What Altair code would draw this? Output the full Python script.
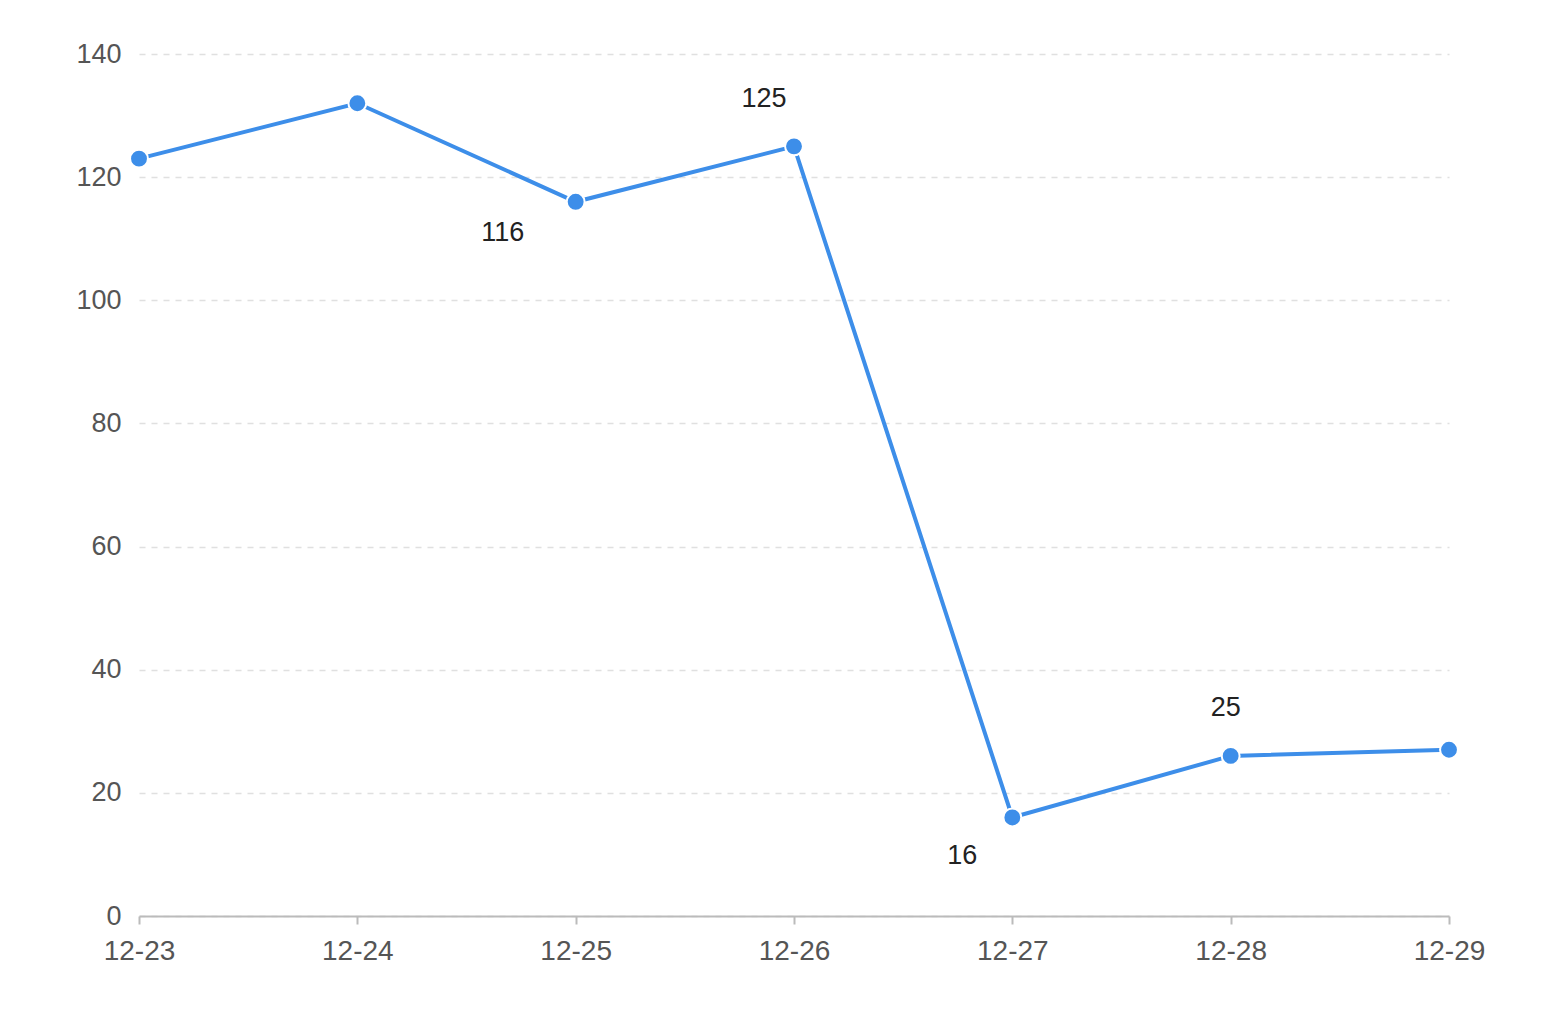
import altair as alt
import pandas as pd

dates = ["12-23", "12-24", "12-25", "12-26", "12-27", "12-28", "12-29"]
values = [123, 132, 116, 125, 16, 26, 27]

label_dates = ["12-25", "12-26", "12-27", "12-28"]
label_values = [116, 125, 16, 26]
label_texts = ["116", "125", "16", "25"]

# per-label offsets (styling)
label_offsets = [(-73, 31), (-30, -47), (-50, 39), (-5, -48)]

FONT = "Helvetica Neue, Arial, Liberation Sans, sans-serif"
BLUE = "#3d8ee9"

df = pd.DataFrame({"date": dates, "value": values})

x_enc = alt.X("date:N", sort=dates,
              scale=alt.Scale(type="point", padding=0),
              axis=alt.Axis(title=None, labelAngle=0, labelFontSize=28, labelColor="#555",
                            labelFont=FONT, labelPadding=13, domainColor="#bbb", domainWidth=2,
                            tickColor="#bbb", tickSize=8, tickWidth=2, grid=False))
y_enc = alt.Y("value:Q",
              scale=alt.Scale(domain=[0, 140], nice=False, zero=True),
              axis=alt.Axis(title=None, values=[0, 20, 40, 60, 80, 100, 120, 140],
                            labelFontSize=27, labelColor="#555", labelFont=FONT,
                            labelPadding=18, domain=False, ticks=False, grid=True,
                            gridColor="#e0e0e0", gridDash=[6, 6], gridWidth=1.5))

line = alt.Chart(df).mark_line(color=BLUE, strokeWidth=4).encode(x=x_enc, y=y_enc)
points = alt.Chart(df).mark_point(filled=True, color=BLUE, size=320, opacity=1,
                                  stroke="white", strokeWidth=2).encode(
    x=alt.X("date:N", sort=dates), y="value:Q")

layers = [line, points]
for d, v, t, (dx, dy) in zip(label_dates, label_values, label_texts, label_offsets):
    ldf = pd.DataFrame({"date": [d], "value": [v], "text": [t]})
    layers.append(
        alt.Chart(ldf).mark_text(dx=dx, dy=dy, fontSize=27, color="#222", font=FONT,
                                 align="center", baseline="middle").encode(
            x=alt.X("date:N", sort=dates), y="value:Q", text="text:N")
    )

chart = alt.layer(*layers).properties(
    width=1310, height=862,
    autosize=alt.AutoSizeParams(type="none"),
    padding={"left": 131, "top": 46, "right": 100, "bottom": 90},
).configure_view(stroke=None)

chart.save("out.html", embed_options={"renderer": "svg", "actions": False})
